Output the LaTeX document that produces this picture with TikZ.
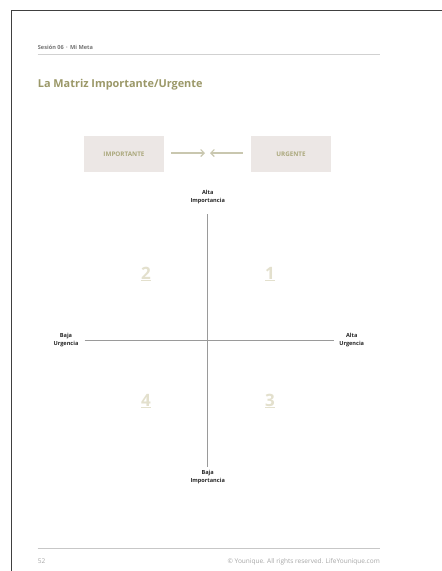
\documentclass[tikz,border=0pt]{standalone}
\usepackage{fontspec}
\setmainfont{Open Sans}
\usepackage{tikz}
\usetikzlibrary{arrows.meta}

\definecolor{olive}{HTML}{9B9868}
\definecolor{boxfill}{HTML}{ECE7E5}
\definecolor{boxtext}{HTML}{ABA87C}
\definecolor{arrowcol}{HTML}{C9C7AF}
\definecolor{numcol}{HTML}{E3E0CD}
\definecolor{axiscol}{HTML}{9A9A9A}

\begin{document}
\begin{tikzpicture}[x = 1pt , y = -1pt ,
    box/.style = {fill = boxfill , minimum width = 80pt , minimum height = 36pt , text = boxtext , font = \bfseries\fontsize{6.3}{7}\selectfont},
    arr/.style = {arrowcol , line width = 1.1pt , -{Straight Barb[length = 3.5pt , width = 7pt]}},
    axlabel/.style = {align = center , inner sep = 0pt , font = \bfseries\fontsize{5.6}{8}\selectfont , text = black!85},
    quad/.style = {text = numcol , font = \bfseries\fontsize{17}{17}\selectfont}]
    \useasboundingbox (0,0) rectangle (442,571);
    \fill[white] (0,0) rectangle (442,571);
    \draw[black!75 , line width = 1pt] (442,10.5) -- (11.5,10.5) -- (11.5,571); % Marco

    % Cabecera
    \node[anchor = base west , inner sep = 0pt , text = black!55 , font = \bfseries\fontsize{5.6}{6}\selectfont] (sesion) at (37.7,49) {Sesión 06 \,·\, Mi Meta};
    \draw[black!18 , line width = 1pt] (37.7,54.5) -- (380,54.5);
    \node[anchor = base west , inner sep = 0pt , text = olive , font = \bfseries\fontsize{10.9}{13}\selectfont] (titulo) at (37.7,87) {La Matriz Importante/Urgente};

    % Cajas
    \node[box] (imp) at (124,154) {IMPORTANTE};
    \node[box] (urg) at (291,154) {URGENTE};
    \coordinate (meet) at (207.5,153);
    \draw[arr] ([xshift = 7pt]imp.east |- meet) -- ([xshift = -2.5pt]meet);
    \draw[arr] ([xshift = -8pt]urg.west |- meet) -- ([xshift = 2.5pt]meet);

    % Ejes
    \node[axlabel] (altaimp) at (207.7,197) {Alta\\Importancia};
    \node[axlabel] (bajaimp) at (207.7,477) {Baja\\Importancia};
    \node[axlabel] (bajaurg) at (66,340) {Baja\\Urgencia};
    \node[axlabel] (altaurg) at (351.7,340) {Alta\\Urgencia};
    \draw[axiscol , line width = 1pt] ([yshift = -10pt]altaimp.south) -- ([yshift = 3pt]bajaimp.north);
    \draw[axiscol , line width = 1pt] ([xshift = 6pt]bajaurg.east) -- ([xshift = -5pt]altaurg.west);

    % Cuadrantes
    \node[quad] (q1) at (270,274) {\underline{1}};
    \node[quad] (q2) at (146,274) {\underline{2}};
    \node[quad] (q3) at (270,401) {\underline{3}};
    \node[quad] (q4) at (146,401) {\underline{4}};

    % Pie
    \draw[black!22 , line width = 0.8pt] (37.7,548.3) -- (380,548.3);
    \node[anchor = base west , inner sep = 0pt , text = black!35 , font = \fontsize{6.5}{7}\selectfont] (pagina) at (37.7,563) {52};
    \node[anchor = base east , inner sep = 0pt , text = black!35 , font = \fontsize{6.5}{7}\selectfont] (derechos) at (380,563) {© Younique. All rights reserved. LifeYounique.com};
\end{tikzpicture}
\end{document}
